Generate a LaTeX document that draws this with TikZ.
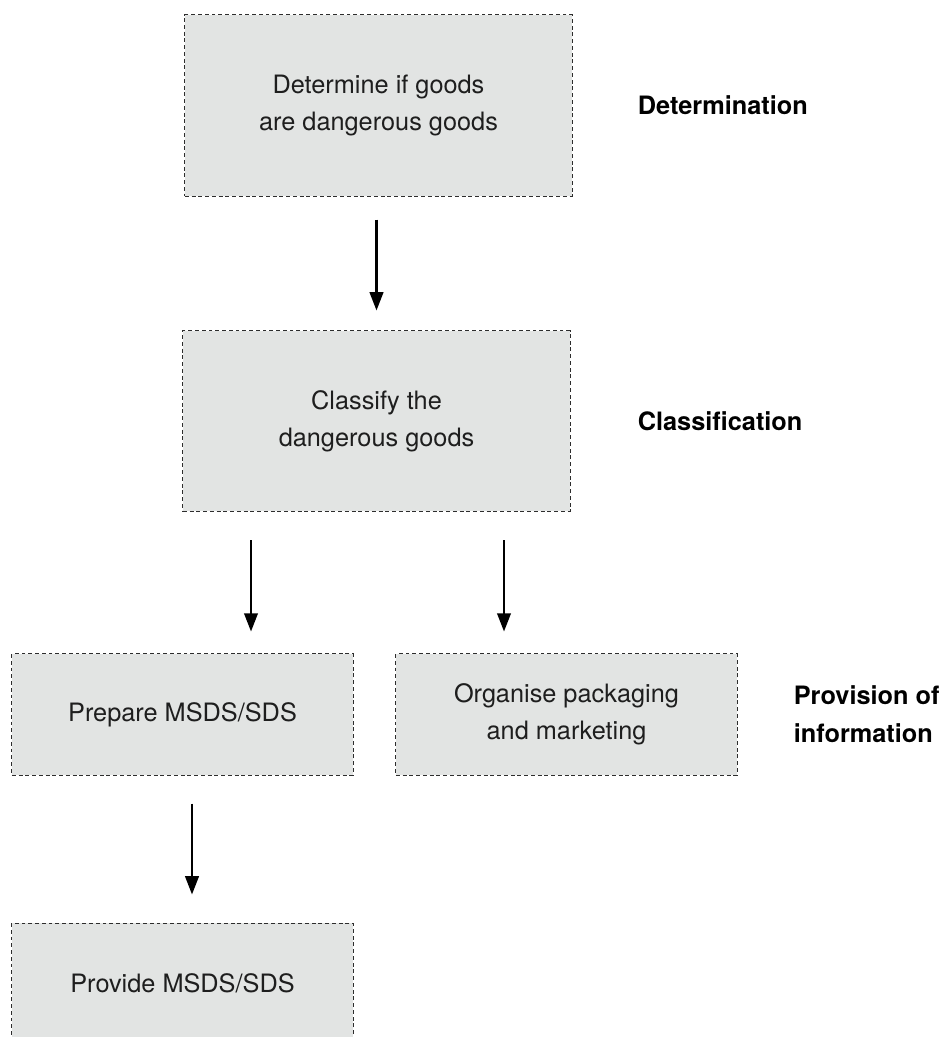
\documentclass[tikz,border=0pt]{standalone}
\usepackage{fontspec}
\setmainfont{TeX Gyre Heros}
\usepackage{tikz}
\usetikzlibrary{positioning,arrows.meta}
\definecolor{boxgray}{RGB}{226,228,227}
\definecolor{edgegray}{RGB}{45,45,45}
\definecolor{txtgray}{RGB}{30,30,30}
\tikzset{
  stepbox/.style={draw=edgegray,fill=boxgray,line width=0.7pt,dash pattern=on 2.8pt off 2pt,
    align=center,inner sep=0pt,text=txtgray,font=\fontsize{18}{26.5}\selectfont},
  phase/.style={inner sep=0pt,align=left,font=\fontsize{18}{27}\selectfont\bfseries},
  flow/.style={line width=1.7pt,-{Triangle[width=9.6pt,length=13pt]}}
}

\begin{document}
\begin{tikzpicture}[x=0.025cm,y=-0.025cm]
    \clip(0,0) rectangle (939,1037);
    \node[stepbox,minimum width=9.675cm,minimum height=4.525cm](det) at (378.5,105.5){Determine if goods\\are dangerous goods};
    \node[stepbox,minimum width=9.675cm,minimum height=4.5cm](cls) at (376.5,421){Classify the\\dangerous goods};
    \node[stepbox,minimum width=8.525cm,minimum height=3.025cm](prep) at (182.5,714.5){Prepare MSDS/SDS};
    \node[stepbox,minimum width=8.525cm,minimum height=3.025cm](pack) at (566.5,714.5){Organise packaging\\and marketing};
    \node[stepbox,minimum width=8.525cm,minimum height=3.025cm](prov) at (182.5,983.5){Provide MSDS/SDS};
    % phases on the right
    \node[phase,right=1.625cm of det](lbdet){Determination};
    \node[phase,right=1.675cm of cls](lbcls){Classification};
    \node[phase,right=1.4cm of pack](lbinfo){Provision of\\information};
    % arrows
    \coordinate(ax1) at (251,0);
    \coordinate(ax2) at (504,0);
    \coordinate(ax3) at (192,0);
    \draw[flow,shorten <=16.4pt,shorten >=14.2pt](det.south -| cls.north)--(cls.north);
    \draw[flow,shorten <=20.6pt,shorten >=15.6pt](ax1 |- cls.south)--(ax1 |- prep.north);
    \draw[flow,shorten <=20.6pt,shorten >=15.6pt](ax2 |- cls.south)--(ax2 |- pack.north);
    \draw[flow,shorten <=19.9pt,shorten >=19.9pt](ax3 |- prep.south)--(ax3 |- prov.north);
  \end{tikzpicture}
\end{document}
